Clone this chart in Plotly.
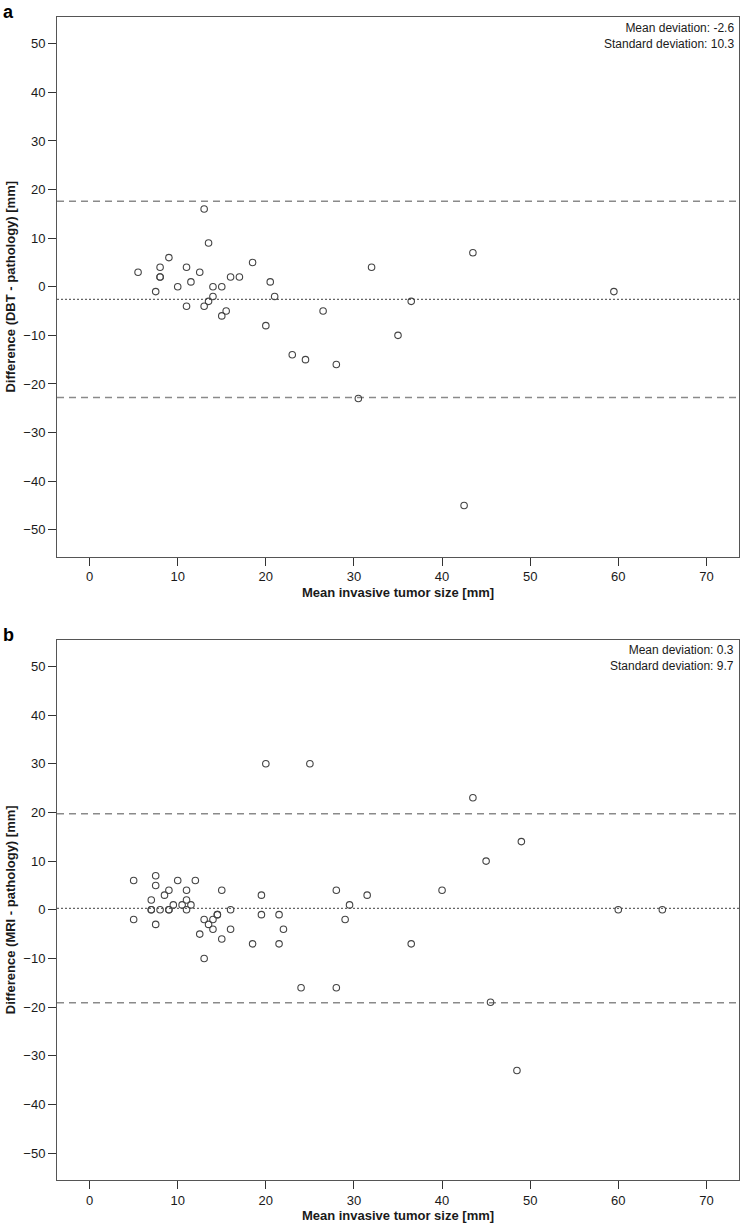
import plotly.graph_objects as go

# ── Data ───────────────────────────────────────────────────────────────────────
# panel a: DBT vs pathology
dbt_mean_size = [5.5, 7.5, 8, 8, 8, 9, 10, 11, 11, 11.5, 12.5, 13, 13, 13.5, 13.5,
                 14, 14, 15, 15, 15.5, 16, 17, 18.5, 20, 20.5, 21, 23, 24.5, 26.5,
                 28, 30.5, 32, 35, 36.5, 42.5, 43.5, 59.5]
dbt_difference = [3, -1, 4, 2, 2, 6, 0, 4, -4, 1, 3, 16, -4, 9, -3,
                  0, -2, 0, -6, -5, 2, 2, 5, -8, 1, -2, -14, -15, -5,
                  -16, -23, 4, -10, -3, -45, 7, -1]
dbt_mean_dev = -2.6
dbt_sd = 10.3
dbt_limits = [17.6, -22.8]

# panel b: MRI vs pathology
mri_mean_size = [5, 5, 7, 7, 7, 7.5, 7.5, 7.5, 8, 8.5, 9, 9, 9, 9.5, 10, 10.5,
                 11, 11, 11, 11.5, 12, 12.5, 13, 13, 13.5, 14, 14, 14.5, 14.5,
                 15, 15, 16, 16, 18.5, 19.5, 19.5, 20, 21.5, 21.5, 22, 24, 25,
                 28, 28, 29, 29.5, 31.5, 36.5, 40, 43.5, 45, 45.5, 48.5, 49, 60, 65]
mri_difference = [6, -2, 2, 0, 0, 7, 5, -3, 0, 3, 4, 0, 0, 1, 6, 1,
                  4, 2, 0, 1, 6, -5, -2, -10, -3, -2, -4, -1, -1,
                  4, -6, 0, -4, -7, 3, -1, 30, -1, -7, -4, -16, 30,
                  4, -16, -2, 1, 3, -7, 4, 23, 10, -19, -33, 14, 0, 0]
mri_mean_dev = 0.3
mri_sd = 9.7
mri_limits = [19.7, -19.1]

x_ticks = [0, 10, 20, 30, 40, 50, 60, 70]
y_ticks = [50, 40, 30, 20, 10, 0, -10, -20, -30, -40, -50]

# ── Style ──────────────────────────────────────────────────────────────────────
FONT = "Liberation Sans, Arial, sans-serif"
TEXT = "#1a1a1a"
FRAME = "#555555"
POINT = "#444444"
LIMIT = "#8a8a8a"
MEAN = "#666666"

fig = go.Figure()

panels = [
    ("x", "y", dbt_mean_size, dbt_difference, dbt_mean_dev, dbt_sd, dbt_limits,
     "Difference (DBT - pathology) [mm]", "a"),
    ("x2", "y2", mri_mean_size, mri_difference, mri_mean_dev, mri_sd, mri_limits,
     "Difference (MRI - pathology) [mm]", "b"),
]

for xa, ya, xs, ys, mean_dev, sd, limits, ytitle, letter in panels:
    fig.add_trace(go.Scatter(
        x=xs, y=ys, xaxis=xa, yaxis=ya, mode="markers", showlegend=False,
        marker=dict(symbol="circle-open", size=6.5, color=POINT, line=dict(width=1.1, color=POINT)),
    ))
    for lim in limits:
        fig.add_shape(type="line", xref=f"{xa} domain", yref=ya, x0=0, x1=1, y0=lim, y1=lim,
                      line=dict(color=LIMIT, width=1.5, dash="7px,5px"), layer="below")
    fig.add_shape(type="line", xref=f"{xa} domain", yref=ya, x0=0, x1=1, y0=mean_dev, y1=mean_dev,
                  line=dict(color=MEAN, width=1.2, dash="2px,2px"), layer="below")

    # panel letter sits just above the frame's top-left corner
    fig.add_annotation(xref=f"{xa} domain", yref=f"{ya} domain", x=-0.082, y=1.0,
                       xanchor="left", yanchor="top", yshift=17, showarrow=False,
                       text=f"<b>{letter}</b>", font=dict(size=18, color="#000", family=FONT))
    fig.add_annotation(xref=f"{xa} domain", yref=f"{ya} domain", x=0.995, y=0.997,
                       xanchor="right", yanchor="top", align="right", showarrow=False,
                       text=f"Mean deviation: {mean_dev}<br>Standard deviation: {sd}",
                       font=dict(size=12, color=TEXT, family=FONT))

axis_common = dict(
    showgrid=False, zeroline=False, showline=True, mirror=True, automargin=False,
    linecolor=FRAME, linewidth=1, ticks="outside", ticklen=8,
    tickcolor="#333333", tickwidth=1,
    tickfont=dict(size=13, color=TEXT, family=FONT),
)

x_common = dict(axis_common, range=[-3.7, 73.7], tickvals=x_ticks,
                title=dict(text="<b>Mean invasive tumor size [mm]</b>", standoff=4,
                           font=dict(size=13, color=TEXT, family=FONT)))
y_common = dict(axis_common, range=[-55.5, 55.5], tickvals=y_ticks)

fig.update_layout(
    width=742, height=1231,
    paper_bgcolor="#ffffff", plot_bgcolor="#ffffff",
    margin=dict(l=57, r=3, t=17, b=51),
    font=dict(family=FONT, color=TEXT),
    xaxis=dict(x_common, domain=[0, 1], anchor="y"),
    yaxis=dict(y_common, domain=[0.5361, 1], anchor="x",
               title=dict(text="<b>" + panels[0][7] + "</b>", standoff=4,
                          font=dict(size=13, color=TEXT, family=FONT))),
    xaxis2=dict(x_common, domain=[0, 1], anchor="y2"),
    yaxis2=dict(y_common, domain=[0, 0.4647], anchor="x2",
                title=dict(text="<b>" + panels[1][7] + "</b>", standoff=4,
                           font=dict(size=13, color=TEXT, family=FONT))),
)

# drop the browser's default body margin so the figure sits at the page corner
fig.write_html("out.html", config={"displayModeBar": False},
               post_script="document.body.style.margin = '0';")
